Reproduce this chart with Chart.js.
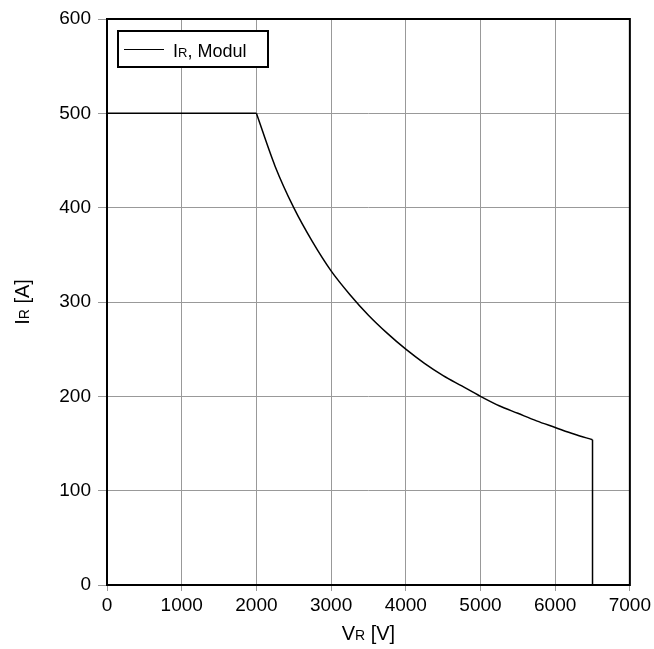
<!DOCTYPE html>
<html>
<head>
<meta charset="utf-8">
<script src="https://cdn.jsdelivr.net/npm/chart.js@4"></script>
<style>
  html, body { margin: 0; padding: 0; background: #fff; }
  #wrap { width: 654px; height: 649px; }
</style>
</head>
<body>
<div id="wrap"><canvas id="chart" width="654" height="649"></canvas></div>
<script>
// Reverse current limit of the module
// flat part (constant current limit)
const flatV = [0, 2000];
const flatA = [500, 500];
// curved part (constant power limit)
const curveV = [2000, 2250, 2500, 2750, 3000, 3250, 3500, 3750, 4000, 4250, 4500, 4750, 5000, 5250, 5500, 5750, 6000, 6250, 6500];
const curveA = [500, 444, 400, 364, 333, 308, 286, 267, 250, 235, 222, 211, 200, 190, 182, 174, 167, 160, 154];
// vertical cut-off at max voltage
const dropV = [6500, 6500];
const dropA = [154, 0];
const xTicks = [0, 1000, 2000, 3000, 4000, 5000, 6000, 7000];
const yTicks = [0, 100, 200, 300, 400, 500, 600];

const FONT = 'Liberation Sans, Arial, sans-serif';

// draw "base + small subscript + rest" text at a point
function subText(ctx, x, y, parts, align) {
  let w = 0;
  parts.forEach(p => { ctx.font = p.size + 'px ' + FONT; w += ctx.measureText(p.t).width; });
  let cx = align === 'center' ? x - w / 2 : x;
  ctx.textBaseline = 'alphabetic';
  ctx.textAlign = 'left';
  parts.forEach(p => {
    ctx.font = p.size + 'px ' + FONT;
    ctx.fillText(p.t, cx, y);
    cx += ctx.measureText(p.t).width;
  });
}

const decorPlugin = {
  id: 'decor',
  afterDraw(chart) {
    const ctx = chart.ctx;
    const a = chart.chartArea;
    ctx.save();
    ctx.strokeStyle = '#000';
    ctx.lineWidth = 2;
    ctx.strokeRect(a.left, a.top, a.right - a.left, a.bottom - a.top);

    ctx.fillStyle = '#000';
    // x title
    subText(ctx, (a.left + a.right) / 2, 640, [
      { t: 'V', size: 20 }, { t: 'R', size: 14 }, { t: ' [V]', size: 20 }
    ], 'center');
    // y title
    ctx.save();
    ctx.translate(29, (a.top + a.bottom) / 2);
    ctx.rotate(-Math.PI / 2);
    subText(ctx, 0, 0, [
      { t: 'I', size: 20 }, { t: 'R', size: 14 }, { t: ' [A]', size: 20 }
    ], 'center');
    ctx.restore();

    // legend box
    ctx.fillStyle = '#fff';
    ctx.fillRect(118, 31, 150, 36);
    ctx.lineWidth = 2;
    ctx.strokeRect(118, 31, 150, 36);
    ctx.lineWidth = 1;
    ctx.beginPath();
    ctx.moveTo(124, 49.5);
    ctx.lineTo(164, 49.5);
    ctx.stroke();
    ctx.fillStyle = '#000';
    subText(ctx, 173, 56.5, [
      { t: 'I', size: 18 }, { t: 'R', size: 13 }, { t: ', Modul', size: 18 }
    ], 'left');
    ctx.restore();
  }
};

const toPts = (xs, ys) => xs.map((v, i) => ({ x: v, y: ys[i] }));
const lineStyle = { showLine: true, borderColor: '#000', borderWidth: 1.5, pointRadius: 0 };

new Chart(document.getElementById('chart'), {
  type: 'scatter',
  data: {
    datasets: [
      { label: 'IR, Modul', data: toPts(flatV, flatA), ...lineStyle },
      { label: 'curve', data: toPts(curveV, curveA), ...lineStyle, cubicInterpolationMode: 'monotone' },
      { label: 'drop', data: toPts(dropV, dropA), ...lineStyle },
    ],
  },
  options: {
    responsive: false,
    animation: false,
    layout: { padding: { top: 19, right: 23, left: 0, bottom: 0 } },
    plugins: {
      legend: { display: false },
      tooltip: { enabled: false },
    },
    scales: {
      x: {
        type: 'linear',
        min: 0,
        max: 7000,
        afterBuildTicks: s => { s.ticks = xTicks.map(v => ({ value: v })); },
        afterFit: s => { s.height = 64; },
        grid: { color: '#999', lineWidth: 1, tickLength: 6, drawTicks: true },
        border: { display: false },
        ticks: { color: '#000', font: { family: FONT, size: 19 }, padding: 3, maxRotation: 0, callback: v => String(v) },
      },
      y: {
        type: 'linear',
        min: 0,
        max: 600,
        afterBuildTicks: s => { s.ticks = yTicks.map(v => ({ value: v })); },
        afterFit: s => { s.width = 107; },
        grid: { color: '#999', lineWidth: 1, tickLength: 9, drawTicks: true },
        border: { display: false },
        ticks: { color: '#000', font: { family: FONT, size: 19 }, padding: 7, callback: v => String(v) },
      },
    },
  },
  plugins: [decorPlugin],
});
</script>
</body>
</html>
